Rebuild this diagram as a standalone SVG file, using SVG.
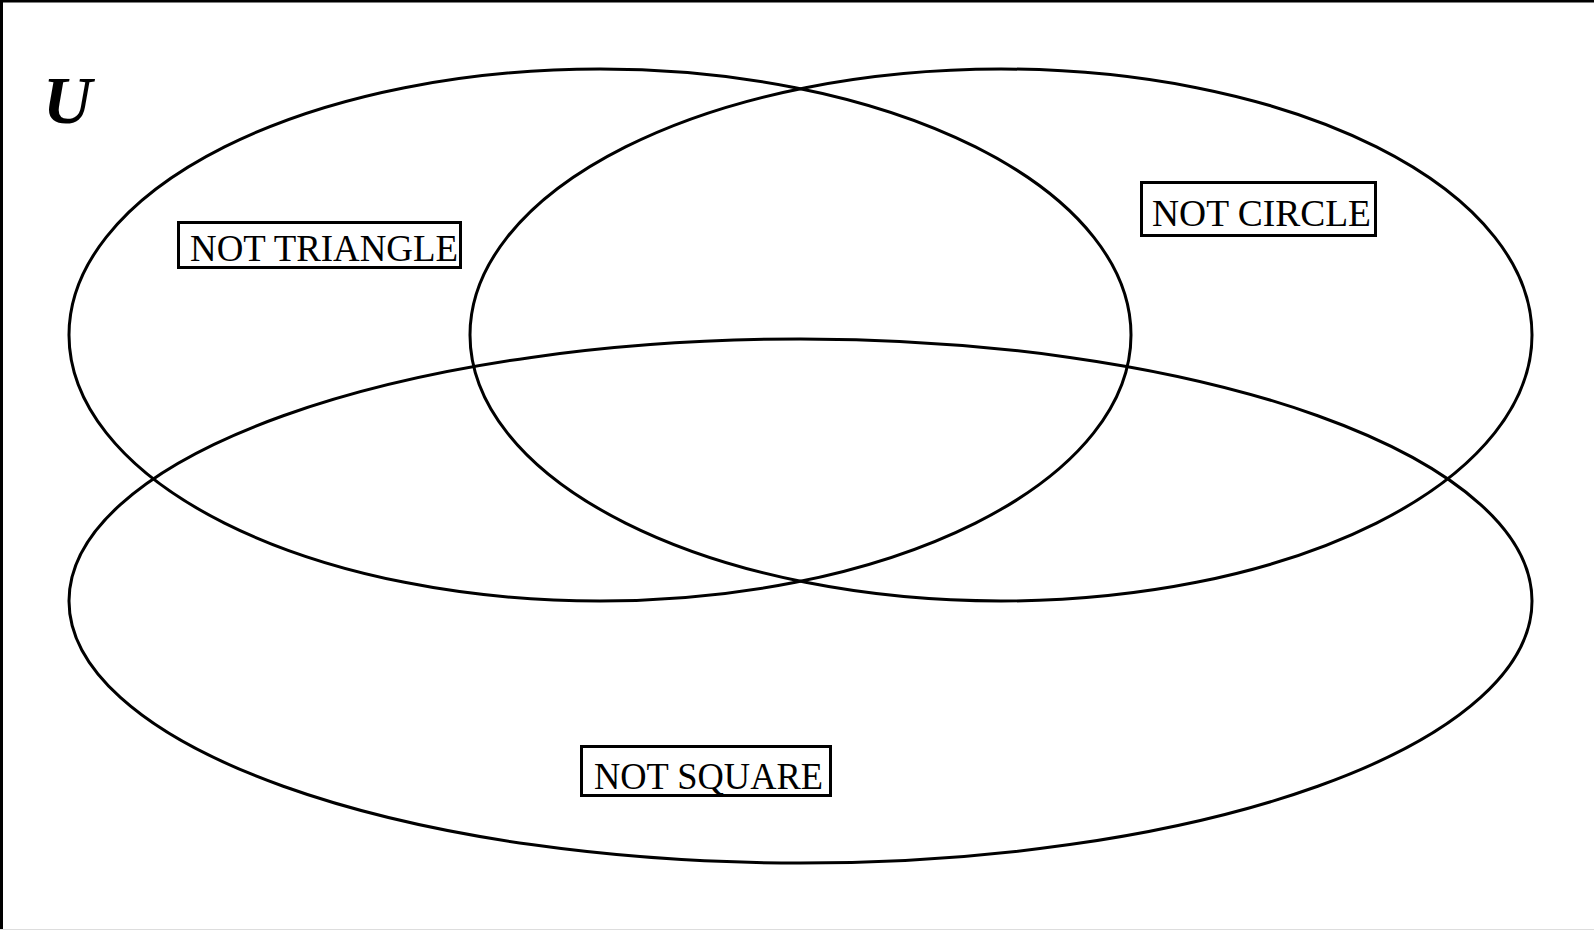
<svg xmlns="http://www.w3.org/2000/svg" width="1594" height="930" viewBox="0 0 1594 930">
<style>
.set{fill:none;stroke:#000;stroke-width:3}
.box{fill:#fff;stroke:#000;stroke-width:3}
.lbl{font-family:"Liberation Serif","Times New Roman",serif;font-size:37px;fill:#000}
.u{font-family:"Liberation Serif","Times New Roman",serif;font-size:68px;font-weight:bold;font-style:italic;fill:#000}
</style>
<rect width="1594" height="930" fill="#fff"/>
<path d="M1.5,929 V1 H1594" fill="none" stroke="#000" stroke-width="3"/>
<line x1="0" y1="929.5" x2="1594" y2="929.5" stroke="#ddd" stroke-width="1"/>
<text class="u" x="43" y="123">U</text>
<g id="connectors"></g>
<g id="set-triangle"><ellipse class="set" cx="600" cy="335" rx="531" ry="266"/></g>
<g id="set-circle"><ellipse class="set" cx="1001" cy="335" rx="531" ry="266"/></g>
<g id="set-square"><ellipse class="set" cx="800.5" cy="601" rx="731.5" ry="262"/></g>
<g id="label-triangle"><rect class="box" x="178.5" y="222.5" width="282" height="45"/><text class="lbl" x="190" y="261" textLength="268" lengthAdjust="spacingAndGlyphs">NOT TRIANGLE</text></g>
<g id="label-circle"><rect class="box" x="1141.5" y="182.5" width="234" height="53"/><text class="lbl" x="1152" y="226" textLength="219" lengthAdjust="spacingAndGlyphs">NOT CIRCLE</text></g>
<g id="label-square"><rect class="box" x="581.5" y="746.5" width="249" height="49"/><text class="lbl" x="594" y="789" textLength="229" lengthAdjust="spacingAndGlyphs">NOT SQUARE</text></g>
</svg>
